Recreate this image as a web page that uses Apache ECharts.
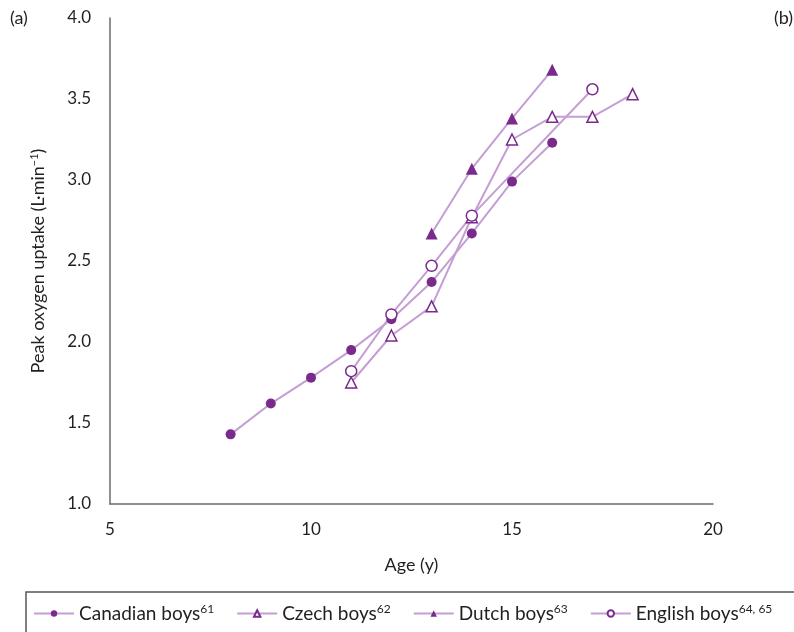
<!DOCTYPE html>
<html><head><meta charset="utf-8">
<script src="https://cdn.jsdelivr.net/npm/echarts@6/dist/echarts.min.js"></script>
<style>html,body{margin:0;padding:0;background:#fff}#c{width:794px;height:632px}</style>
</head><body><div id="c"></div>
<script>
const canadianAges = [8, 9, 10, 11, 12, 13, 14, 15, 16];
const canadianVO2 = [1.43, 1.62, 1.78, 1.95, 2.14, 2.37, 2.67, 2.99, 3.23];
const czechAges = [11, 12, 13, 14, 15, 16, 17, 18];
const czechVO2 = [1.75, 2.04, 2.22, 2.77, 3.25, 3.39, 3.39, 3.53];
const dutchAges = [13, 14, 15, 16];
const dutchVO2 = [2.67, 3.07, 3.38, 3.68];
const englishAges = [11, 12, 13, 14, 17];
const englishVO2 = [1.82, 2.17, 2.47, 2.78, 3.56];
const seriesNames = ['Canadian boys', 'Czech boys', 'Dutch boys', 'English boys'];
const seriesRefs = ['61', '62', '63', '64, 65'];
const xTicks = [5, 10, 15, 20];
const yTicks = [1.0, 1.5, 2.0, 2.5, 3.0, 3.5, 4.0];

const pair = (xs, ys) => xs.map((x, i) => [x, ys[i]]);
const LINE = '#c49ed4';
const MARK = '#7a2a8c';
const TEXT = '#231f20';
const FONT = 'Lato';

function mk(name, data, symbol, filled, size) {
  return {
    name, type: 'line', data, symbol, symbolSize: size,
    lineStyle: { color: LINE, width: 2 },
    itemStyle: { color: filled ? MARK : '#fff', borderColor: MARK, borderWidth: filled ? 0 : 1.5 },
    emphasis: { disabled: true }, animation: false
  };
}
const refMap = {};
seriesNames.forEach((n, i) => refMap[n] = seriesRefs[i]);

const chart = echarts.init(document.getElementById('c'), null, { renderer: 'canvas' });
chart.setOption({
  animation: false,
  grid: { left: 110, right: 81, top: 18, bottom: 128 },
  xAxis: {
    type: 'value', min: 5, max: 20, interval: 5,
    name: 'Age (y)', nameLocation: 'middle', nameGap: 52,
    nameTextStyle: { fontFamily: FONT, fontSize: 18, color: TEXT },
    axisLine: { lineStyle: { color: '#6b6b6b', width: 1.5 } },
    axisTick: { show: false }, splitLine: { show: false },
    axisLabel: { fontFamily: FONT, fontSize: 17, color: TEXT, margin: 17,
      formatter: v => xTicks.includes(v) ? String(v) : '' }
  },
  yAxis: {
    type: 'value', min: 1.0, max: 4.0, interval: 0.5,
    name: 'Peak oxygen uptake (L·min{s|−1})', nameLocation: 'middle', nameGap: 62,
    nameTextStyle: { fontFamily: FONT, fontSize: 18, color: TEXT,
      rich: { s: { fontFamily: FONT, fontSize: 11, color: TEXT, verticalAlign: 'top', padding: [0, 0, 8, 0] } } },
    axisLine: { show: true, lineStyle: { color: '#6b6b6b', width: 1.5 } },
    axisTick: { show: false }, splitLine: { show: false },
    axisLabel: { fontFamily: FONT, fontSize: 17, color: TEXT, margin: 19,
      formatter: v => yTicks.some(t => Math.abs(t - v) < 1e-9) ? v.toFixed(1) : '' }
  },
  legend: {
    left: 28, top: 598, itemWidth: 40, itemHeight: 8, itemGap: 22,
    data: seriesNames,
    formatter: n => '{n|' + n + '}{s|' + refMap[n] + '}',
    textStyle: { fontFamily: FONT, fontSize: 19, color: TEXT,
      rich: { n: { fontFamily: FONT, fontSize: 19, color: TEXT },
              s: { fontFamily: FONT, fontSize: 12, color: TEXT, verticalAlign: 'top', padding: [0, 0, 9, 0] } } }
  },
  graphic: [
    { type: 'rect', shape: { x: 26, y: 592, width: 800, height: 80 }, style: { fill: 'none', stroke: '#555', lineWidth: 1.5 }, silent: true },
    { type: 'text', left: 10, top: 9, style: { text: '(a)', fontFamily: FONT, fontSize: 18, fill: TEXT } },
    { type: 'text', left: 774, top: 9, style: { text: '(b)', fontFamily: FONT, fontSize: 18, fill: TEXT } }
  ],
  series: [
    mk(seriesNames[0], pair(canadianAges, canadianVO2), 'circle', true, 10),
    mk(seriesNames[1], pair(czechAges, czechVO2), 'triangle', false, 11),
    mk(seriesNames[2], pair(dutchAges, dutchVO2), 'triangle', true, 12),
    mk(seriesNames[3], pair(englishAges, englishVO2), 'circle', false, 11)
  ]
});
</script></body></html>
